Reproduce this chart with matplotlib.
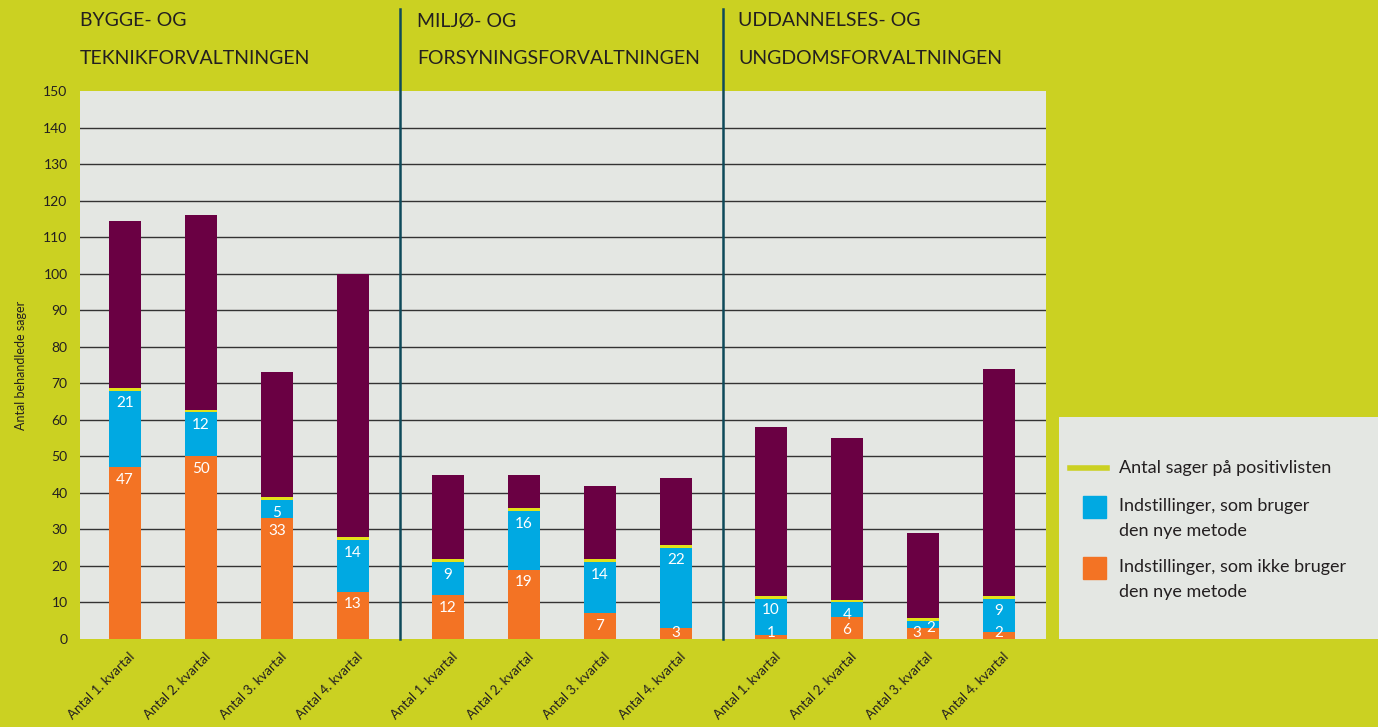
import numpy as np
import matplotlib.pyplot as plt

plt.rcParams['font.family'] = ['Lato', 'DejaVu Sans']

# data
group_titles = [('BYGGE- OG', 'TEKNIKFORVALTNINGEN'),
                ('MILJØ- OG', 'FORSYNINGSFORVALTNINGEN'),
                ('UDDANNELSES- OG', 'UNGDOMSFORVALTNINGEN')]
quarters = ['Antal 1. kvartal', 'Antal 2. kvartal', 'Antal 3. kvartal', 'Antal 4. kvartal']
ikke_ny_metode = np.array([47, 50, 33, 13, 12, 19, 7, 3, 1, 6, 3, 2])
ny_metode = np.array([21, 12, 5, 14, 9, 16, 14, 22, 10, 4, 2, 9])
behandlede = np.array([114.5, 116, 73, 100, 45, 45, 42, 44, 58, 55, 29, 74])

bg = '#cbd122'
panel = '#e4e7e3'
orange = '#f37324'
blue = '#00a9e2'
purple = '#6a0043'
yellow = '#e2e21a'
teal = '#0e4a5a'
txt = '#231f20'

W, H = 1378, 727
fig = plt.figure(figsize=(W / 100, H / 100), dpi=100, facecolor=bg)
ax = fig.add_axes([80 / W, 1 - 639 / H, (1046 - 80) / W, (639 - 91) / H])
ax.set_facecolor(panel)

x = np.array([g * 4.25 + i for g in range(3) for i in range(4)])
w = 0.42
mark = 0.8

bund = ikke_ny_metode + ny_metode
ax.bar(x, ikke_ny_metode, w, color=orange, zorder=3)
ax.bar(x, ny_metode, w, bottom=ikke_ny_metode, color=blue, zorder=3)
ax.bar(x, mark, w, bottom=bund, color=yellow, zorder=3)
ax.bar(x, behandlede - bund - mark, w, bottom=bund + mark, color=purple, zorder=3)

# labels in segments
for i in range(len(x)):
    dx_o, dx_b = 0, 0
    yb = max(bund[i] - 3.4, 1.6)
    yo = max(ikke_ny_metode[i] - 3.4, 1.6)
    if i == 10:
        dx_o, dx_b, yb = -0.08, 0.1, 3.0
    if i == 8:
        yb = bund[i] - 3.0
    ax.text(x[i] + dx_b, yb, str(ny_metode[i]), color='white', ha='center', va='center',
            fontsize=11, zorder=4)
    ax.text(x[i] + dx_o, yo, str(ikke_ny_metode[i]), color='white', ha='center', va='center',
            fontsize=11, zorder=4)

ax.set_ylim(0, 150)
ax.set_xlim(-0.59, 12.12)
ax.set_yticks(range(0, 151, 10))
for v in range(10, 150, 10):
    ax.axhline(v, color='#333333', lw=1, zorder=1)
ax.tick_params(axis='y', length=0, pad=9, labelsize=10, labelcolor=txt)
ax.set_xticks(x + 0.05)
ax.set_xticklabels(quarters * 3, rotation=45, ha='right', rotation_mode='anchor',
                   fontsize=9.5, color=txt)
ax.tick_params(axis='x', length=0, pad=8)
for s in ax.spines.values():
    s.set_visible(False)
ax.set_ylabel('Antal behandlede sager', fontsize=9, color=txt, labelpad=12)

# group separators
for g in (1, 2):
    ax.axvline(g * 4.25 - 0.625, ymin=0, ymax=(639 - 9) / 548, color=teal, lw=1.8,
               clip_on=False, zorder=5)

tx = [80, 417, 738]
for g, (l1, l2) in enumerate(group_titles):
    fig.text(tx[g] / W, 1 - 21 / H, l1, fontsize=14, color=txt, va='center')
    fig.text(tx[g] / W, 1 - 59 / H, l2, fontsize=14, color=txt, va='center')

# legend box
lax = fig.add_axes([1059 / W, 1 - 639 / H, (W - 1059) / W, (639 - 417) / H])
lax.set_facecolor(panel)
lax.set_xlim(1059, W)
lax.set_ylim(639, 417)
lax.axis('off')
lax.add_patch(plt.Rectangle((1059, 417), W - 1059, 222, color=panel, zorder=0))
lax.plot([1070, 1107], [468, 468], color=bg, lw=4)
lax.text(1119, 468, 'Antal sager på positivlisten', fontsize=13, color=txt, va='center')
lax.add_patch(plt.Rectangle((1083, 496), 23, 22, color=blue))
lax.text(1119, 506, 'Indstillinger, som bruger', fontsize=13, color=txt, va='center')
lax.text(1119, 531, 'den nye metode', fontsize=13, color=txt, va='center')
lax.add_patch(plt.Rectangle((1083, 557), 23, 22, color=orange))
lax.text(1119, 567, 'Indstillinger, som ikke bruger', fontsize=13, color=txt, va='center')
lax.text(1119, 592, 'den nye metode', fontsize=13, color=txt, va='center')

fig.savefig('out.png', dpi=100, facecolor=bg)
